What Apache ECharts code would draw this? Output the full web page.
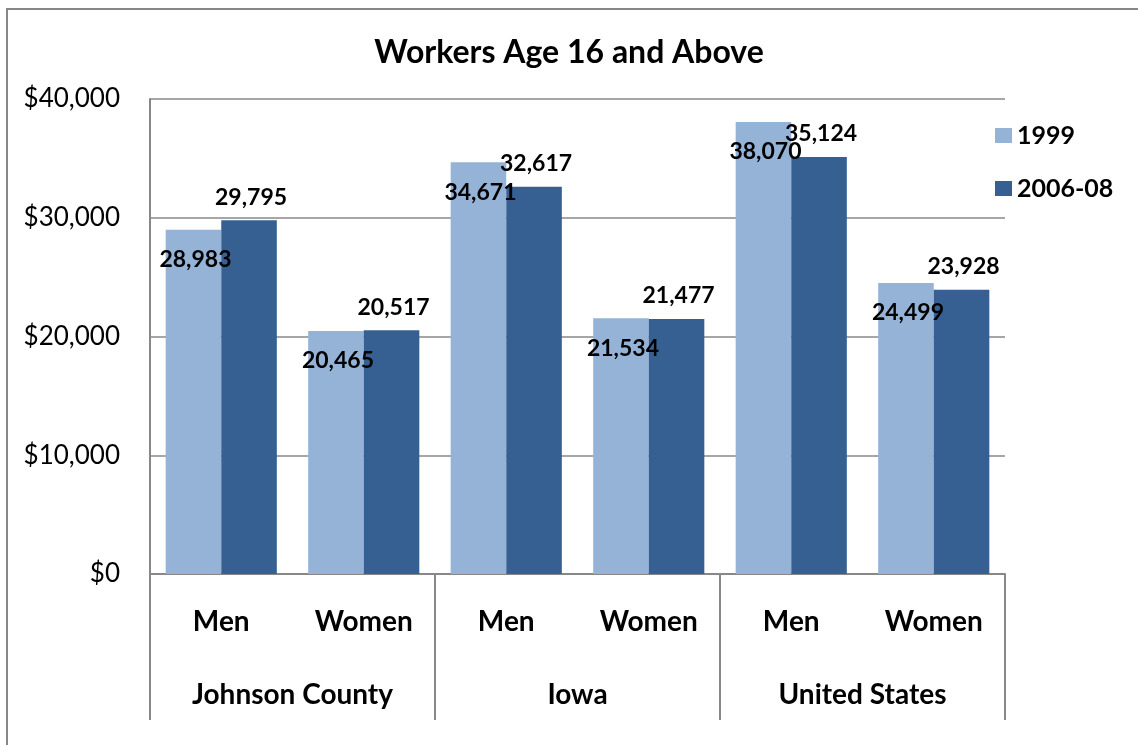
<!DOCTYPE html>
<html>
<head>
<meta charset="utf-8">
<title>Workers Age 16 and Above</title>
<script src="https://cdn.jsdelivr.net/npm/echarts@6/dist/echarts.min.js"></script>
<style>
  html, body { margin: 0; padding: 0; background: #fff; }
  #chart { width: 1138px; height: 745px; }
</style>
</head>
<body>
<div id="chart"></div>
<script>
// Median earnings of workers age 16 and above, by sex and area
const categories = ['Men', 'Women', 'Men', 'Women', 'Men', 'Women'];
const regions = ['Johnson County', 'Iowa', 'United States'];
const seriesNames = ['1999', '2006-08'];
const earnings1999 = [28983, 20465, 34671, 21534, 38070, 24499];
const earnings2006 = [29795, 20517, 32617, 21477, 35124, 23928];

const FONT = 'Lato, "Open Sans", sans-serif';
const GRAY = '#888888';
const fmt = v => v.toLocaleString('en-US');

const labelBase = {
  show: true,
  align: 'center',
  verticalAlign: 'middle',
  fontFamily: FONT,
  fontWeight: 'bold',
  fontSize: 23,
  color: '#000',
  formatter: p => fmt(p.value)
};

const chart = echarts.init(document.getElementById('chart'), null, { renderer: 'canvas' });
chart.setOption({
  animation: false,
  backgroundColor: '#fff',
  title: {
    text: 'Workers Age 16 and Above',
    left: 'center',
    top: 32,
    textStyle: { fontFamily: FONT, fontWeight: 'bold', fontSize: 32, color: '#000' }
  },
  graphic: [{
    type: 'rect',
    shape: { x: 7, y: 9, width: 1200, height: 800 },
    style: { fill: 'none', stroke: GRAY, lineWidth: 2 },
    silent: true
  }],
  legend: {
    orient: 'vertical',
    left: 990,
    top: 118,
    itemWidth: 17,
    itemHeight: 15,
    itemGap: 28,
    icon: 'rect',
    textStyle: { fontFamily: FONT, fontWeight: 'bold', fontSize: 25, color: '#000' },
    data: seriesNames
  },
  grid: { left: 150, top: 99, width: 855, height: 475, containLabel: false },
  xAxis: [{
    type: 'category',
    position: 'bottom',
    data: categories,
    axisLine: { show: true, lineStyle: { color: GRAY, width: 2 } },
    axisTick: { show: false },
    axisLabel: { margin: 34, fontFamily: FONT, fontWeight: 'bold', fontSize: 28, color: '#000', interval: 0 }
  }, {
    type: 'category',
    position: 'bottom',
    data: regions,
    axisLine: { show: false },
    axisTick: { show: true, length: 146, lineStyle: { color: GRAY, width: 2 } },
    axisLabel: { margin: 107, fontFamily: FONT, fontWeight: 'bold', fontSize: 28, color: '#000', interval: 0 },
    splitLine: { show: false }
  }],
  yAxis: {
    type: 'value',
    min: 0,
    max: 40000,
    interval: 10000,
    axisLine: { show: true, lineStyle: { color: GRAY, width: 2 } },
    axisTick: { show: false },
    splitLine: { show: true, lineStyle: { color: GRAY, width: 1.5 } },
    axisLabel: {
      margin: 30,
      fontFamily: FONT,
      fontSize: 26,
      color: '#000',
      formatter: v => '$' + fmt(v)
    }
  },
  series: [{
    name: seriesNames[0],
    type: 'bar',
    xAxisIndex: 0,
    data: earnings1999,
    barGap: '0%',
    barCategoryGap: '22%',
    itemStyle: { color: '#95B3D7' },
    label: Object.assign({}, labelBase, { position: ['50%', 30], offset: [2, 0] })
  }, {
    name: seriesNames[1],
    type: 'bar',
    xAxisIndex: 0,
    data: earnings2006,
    barGap: '0%',
    barCategoryGap: '22%',
    itemStyle: { color: '#366092' },
    label: Object.assign({}, labelBase, { position: ['50%', -23], offset: [2, 0] })
  }]
});
</script>
</body>
</html>
